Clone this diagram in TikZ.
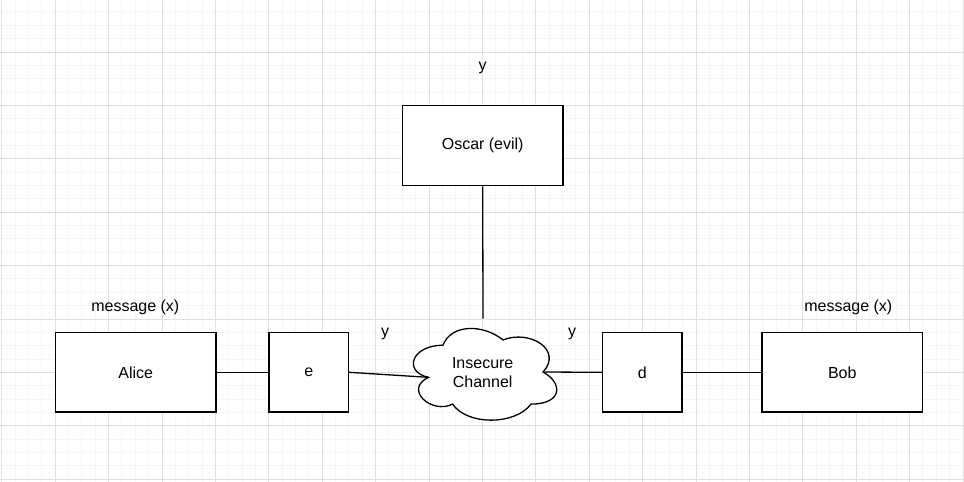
\documentclass[tikz,border=0pt]{standalone}
\usepackage{fontspec}
\setmainfont{Liberation Sans}
\definecolor{gridminor}{HTML}{F5F5F5}
\definecolor{gridmajor}{HTML}{E0E0E0}
\begin{document}
\begin{tikzpicture}[x=1pt,y=-1pt,
  every node/.style={font=\fontsize{16}{19}\selectfont},
  box/.style={draw=black,line width=1.3pt,fill=white,inner sep=0pt},
  conn/.style={draw=black,line width=1.3pt},
  lbl/.style={inner sep=0pt}]
\useasboundingbox (0,0) rectangle (964,482);
\fill[white] (0,0) rectangle (964,482);
% grid
\foreach \i in {0,...,72} {
  \draw[gridminor,line width=0.8pt] ({1.7+13.35*\i},0) -- ({1.7+13.35*\i},482);
}
\foreach \i in {0,...,36} {
  \draw[gridminor,line width=0.8pt] (0,{-1.5+13.35*\i}) -- (964,{-1.5+13.35*\i});
}
\foreach \i in {0,...,18} {
  \draw[gridmajor,line width=0.8pt] ({1.7+53.4*\i},0) -- ({1.7+53.4*\i},482);
}
\foreach \i in {0,...,9} {
  \draw[gridmajor,line width=0.8pt] (0,{-1.5+53.4*\i}) -- (964,{-1.5+53.4*\i});
}
% boxes
\node[box,minimum width=160.6pt,minimum height=79.5pt] (alice) at (135.7,372.3) {Alice};
\node[box,minimum width=79.5pt,minimum height=79.5pt] (e) at (308.7,372.3) {e};
\node[box,minimum width=79.5pt,minimum height=79.5pt] (d) at (642.2,372.3) {d};
\node[box,minimum width=160.6pt,minimum height=79.5pt] (bob) at (842.3,372.3) {Bob};
\node[box,minimum width=160.6pt,minimum height=80.5pt] (oscar) at (482.7,145.5) {Oscar (evil)};
% cloud
\begin{scope}[shift={(403,318.5)},x=160pt,y=-107pt]
  \draw[line width=1.3pt,fill=white]
    (0.25,0.25) .. controls (0.05,0.25) and (0,0.5) .. (0.16,0.55)
    .. controls (0,0.66) and (0.18,0.9) .. (0.31,0.8)
    .. controls (0.4,1) and (0.7,1) .. (0.8,0.8)
    .. controls (1,0.8) and (1,0.6) .. (0.875,0.5)
    .. controls (1,0.3) and (0.8,0.1) .. (0.625,0.2)
    .. controls (0.5,0.05) and (0.3,0.05) .. (0.25,0.25) -- cycle;
  \coordinate (cl) at (0.16,0.55);
  \coordinate (cr) at (0.875,0.5);
  \coordinate (ct) at (0.5,0);
\end{scope}
\node[lbl,align=center] (chan) at (482.7,373) {Insecure\\Channel};
% labels
\node[lbl] (ylabo) at (482.7,68) {y};
\node[lbl] (ylabl) at (385,334) {y};
\node[lbl] (ylabr) at (572,334) {y};
\node[lbl] (msga) at (135.3,307) {message (x)};
\node[lbl] (msgb) at (848.3,307) {message (x)};
% connectors
\draw[conn] (alice.east) -- (e.west);
\draw[conn] (e.east) -- (cl);
\draw[conn] (cr) -- (d.west);
\draw[conn] (d.east) -- (bob.west);
\draw[conn] (oscar.south) -- (ct);
\end{tikzpicture}
\end{document}
